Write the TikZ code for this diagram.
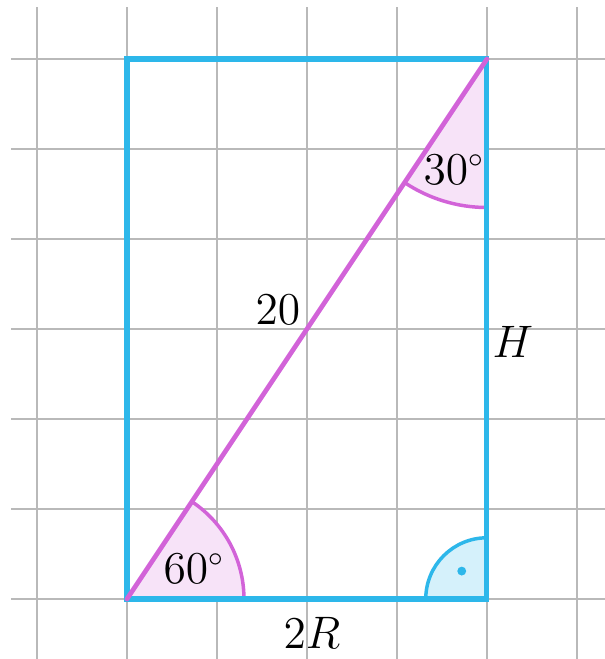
\documentclass[tikz,border=0pt]{standalone}
\usepackage{tikz}
\usetikzlibrary{calc}
\definecolor{sideblue}{HTML}{2DB7EA}
\definecolor{diagpink}{HTML}{D263D8}

\begin{document}
\begin{tikzpicture}[x=1cm,y=1cm,
gridline/.style={draw=gray!55,line width=0.6pt},
side/.style={draw=sideblue,line width=1.6pt,line join=miter},
diag/.style={draw=diagpink,line width=1.5pt},
angarc/.style={draw=diagpink,line width=1.1pt},
lbl/.style={font=\fontsize{13.5}{16}\selectfont,inner sep=0pt}]
\useasboundingbox (-1.411,-0.667) rectangle (5.311,6.656);
\foreach \x in {-1,...,5} \draw[gridline] (\x,-0.667)--(\x,6.578);
\foreach \y in {0,...,6} \draw[gridline] (-1.289,\y)--(5.311,\y);
\coordinate (A) at (0,0);
\coordinate (B) at (4,0);
\coordinate (C) at (4,6);
\coordinate (D) at (0,6);
\fill[diagpink!18] (A)--++(1.3,0) arc[start angle=0,end angle=56.31,radius=1.3]--cycle;
\draw[angarc] ($(A)+(1.3,0)$) arc[start angle=0,end angle=56.31,radius=1.3];
\fill[diagpink!18] (C)--++(0,-1.65) arc[start angle=270,end angle=236.31,radius=1.65]--cycle;
\draw[angarc] ($(C)+(0,-1.65)$) arc[start angle=270,end angle=236.31,radius=1.65];
\fill[sideblue!20] (B)--++(-0.68,0) arc[start angle=180,end angle=90,radius=0.68]--cycle;
\draw[sideblue,line width=1.1pt] ($(B)+(-0.68,0)$) arc[start angle=180,end angle=90,radius=0.68];
\fill[sideblue] (3.72,0.31) circle (1.4pt);
\draw[side] (A) rectangle (C);
\draw[diag,line cap=round] (A)--(C);
\node[lbl] (a60) at (0.744,0.34) {$60^\circ$};
\node[lbl] (a30) at (3.633,4.77) {$30^\circ$};
\node[lbl] (len) at (1.678,3.21) {$20$};
\node[lbl] (hgt) at (4.289,2.86) {$H$};
\node[lbl] (wid) at (2.056,-0.38) {$2R$};
\end{tikzpicture}
\end{document}
